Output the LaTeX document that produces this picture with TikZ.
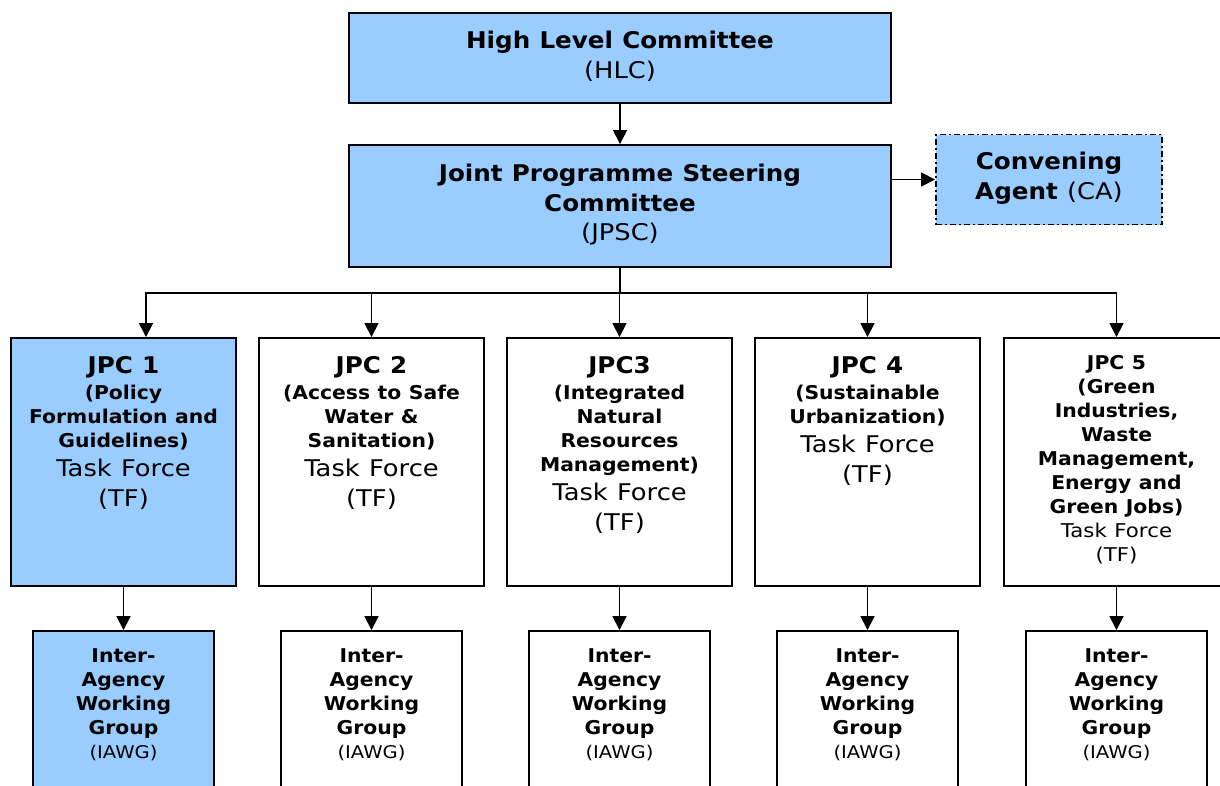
\documentclass[tikz,border=0pt]{standalone}
\usepackage{fontspec}
\setmainfont{DejaVu Sans}[FakeStretch=1.12, BoldFeatures={FakeStretch=1.07}]
\usetikzlibrary{arrows.meta}
\definecolor{boxblue}{HTML}{99CCFF}
\newcommand\tfix{\rule{0pt}{20pt}}
\newcommand\fs[2]{\fontsize{#1}{#2}\selectfont\spaceskip=0.4em\relax}
\begin{document}
\begin{tikzpicture}[x=1pt,y=-1pt,
  box/.style={draw=black, line width=1.9pt, inner sep=0pt},
  cabox/.style={box, dash pattern=on 6pt off 3pt on 2pt off 3pt},
  jpcbox/.style={box, minimum width=225pt, minimum height=248pt},
  iawgbox/.style={box, minimum width=181pt, minimum height=190pt},
  txt/.style={inner sep=0pt, align=center, anchor=north, font=\fs{19}{24}},
  conn/.style={line width=1.7pt},
  arr/.style={conn, -{Triangle[length=14pt,width=14pt]}}]
\useasboundingbox (0,0) rectangle (1220,785);

% top boxes
\node[box, fill=boxblue, minimum width=542pt, minimum height=90pt] (hlc) at (620,58) {};
\node[txt, text width=520pt] (hlct) at (620,28) {\bfseries\fs{23}{23}\tfix High Level Committee\\ \mdseries\fs{23}{30}(HLC)\par};

\node[box, fill=boxblue, minimum width=542pt, minimum height=122pt] (jpsc) at (620,206) {};
\node[txt, text width=530pt] (jpsct) at (620,161) {\bfseries\fs{23}{23}\tfix Joint Programme Steering\\ \fs{23}{30}Committee\\ \mdseries\fs{23}{29}(JPSC)\par};

\node[cabox, fill=boxblue, minimum width=226pt, minimum height=90pt] (ca) at (1049,179.5) {};
\node[txt, text width=215pt] (cat) at (1049,149) {\bfseries\fs{23}{23}\tfix Convening\\ \fs{23}{30}Agent {\mdseries (CA)}\par};

% JPC boxes
\node[jpcbox, fill=boxblue] (jpc1) at (123.5,462) {};
\node[jpcbox] (jpc2) at (371.5,462) {};
\node[jpcbox] (jpc3) at (619.5,462) {};
\node[jpcbox] (jpc4) at (867.5,462) {};
\node[jpcbox] (jpc5) at (1116.5,462) {};

\node[txt, text width=222pt] (jpc1t) at (123.5,353) {\bfseries\fs{23}{23}\tfix JPC 1\\ \fs{19}{26}(Policy\\ \fs{19}{24}Formulation and\\ Guidelines)\\ \mdseries\fs{23}{29}Task Force\\ \fs{23}{30}(TF)\par};
\node[txt, text width=222pt] (jpc2t) at (371.5,353) {\bfseries\fs{23}{23}\tfix JPC 2\\ \fs{19}{26}(Access to Safe\\ \fs{19}{24}Water \&\\ Sanitation)\\ \mdseries\fs{23}{29}Task Force\\ \fs{23}{30}(TF)\par};
\node[txt, text width=222pt] (jpc3t) at (619.5,353) {\bfseries\fs{23}{23}\tfix JPC3\\ \fs{19}{26}(Integrated\\ \fs{19}{24}Natural\\ Resources\\ Management)\\ \mdseries\fs{23}{29}Task Force\\ \fs{23}{30}(TF)\par};
\node[txt, text width=222pt] (jpc4t) at (867.5,353) {\bfseries\fs{23}{23}\tfix JPC 4\\ \fs{19}{26}(Sustainable\\ \fs{19}{24}Urbanization)\\ \mdseries\fs{23}{29}Task Force\\ \fs{23}{30}(TF)\par};
\node[txt, text width=222pt] (jpc5t) at (1116.5,349) {\bfseries\fs{19}{19}\tfix JPC 5\\ \fs{19}{24}(Green\\ Industries,\\ Waste\\ Management,\\ Energy and\\ Green Jobs)\\ \mdseries Task Force\\ (TF)\par};

% IAWG boxes
\foreach \i/\x in {1/123.5,2/371.5,3/619.5,4/867.5,5/1116.5}{
  \ifnum\i=1
    \node[iawgbox, fill=boxblue] (iawg\i) at (\x,726) {};
  \else
    \node[iawgbox] (iawg\i) at (\x,726) {};
  \fi
  \node[txt, text width=175pt] (iawg\i t) at (\x,642) {\bfseries\tfix Inter-\\ Agency\\ Working\\ Group\\ \mdseries\fs{17.5}{24}(IAWG)\par};
}

% connectors
\draw[arr] (hlc.south) -- (jpsc.north);
\draw[arr] (jpsc.east |- ca.west) -- (ca.west);
\coordinate (b1) at (146,293);
\coordinate (b5) at (1116.5,293);
\draw[conn] (jpsc.south) -- (jpsc.south |- b1);
\draw[conn, line cap=rect] (b1) -- (b5);
\draw[arr] (b1) -- (b1 |- jpc1.north);
\draw[arr] (jpc2.north |- b1) -- (jpc2.north);
\draw[arr] (jpc3.north |- b1) -- (jpc3.north);
\draw[arr] (jpc4.north |- b1) -- (jpc4.north);
\draw[arr] (b5) -- (jpc5.north);
\foreach \i in {1,...,5}{
  \draw[arr] (jpc\i.south) -- (iawg\i.north);
}
\end{tikzpicture}
\end{document}
